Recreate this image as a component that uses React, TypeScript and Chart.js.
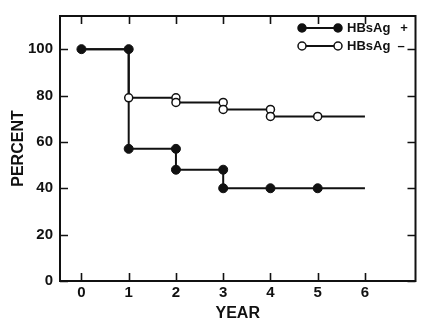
import React, { useEffect, useRef } from "react";
import { Chart, registerables } from "chart.js";

Chart.register(...registerables);

// ---- data ----
const yearTicks = [0, 1, 2, 3, 4, 5, 6];
const percentTicks = [0, 20, 40, 60, 80, 100];

const posYears = [0, 1, 1, 2, 2, 3, 3, 4, 5, 6];
const posPercent = [100, 100, 57, 57, 48, 48, 40, 40, 40, 40];
const posMarker = [true, true, true, true, true, true, true, true, true, false];

const negYears = [0, 1, 1, 2, 2, 3, 3, 4, 4, 5, 6];
const negPercent = [100, 100, 79, 79, 77, 77, 74, 74, 71, 71, 71];
const negMarker = [false, false, true, true, true, true, true, true, true, true, false];

const seriesLabels = ["HBsAg +", "HBsAg \u2013"];

const INK = "#111";
const FONT = "'Liberation Sans', Arial, Helvetica, sans-serif";

const framePlugin = {
  id: "frame",
  afterDraw(chart: any) {
    const { ctx, chartArea, scales } = chart;
    const { left, right, top, bottom } = chartArea;
    const x = scales.x;
    const y = scales.y;
    ctx.save();
    ctx.strokeStyle = INK;
    ctx.lineWidth = 1.6;
    const tl = 8;
    ctx.beginPath();
    x.ticks.forEach((t: any) => {
      const px = Math.round(x.getPixelForValue(t.value)) + 0.5;
      ctx.moveTo(px, bottom);
      ctx.lineTo(px, bottom - tl);
      ctx.moveTo(px, top);
      ctx.lineTo(px, top + tl);
    });
    y.ticks.forEach((t: any) => {
      const py = Math.round(y.getPixelForValue(t.value)) + 0.5;
      ctx.moveTo(left, py);
      ctx.lineTo(left + tl, py);
      ctx.moveTo(right, py);
      ctx.lineTo(right - tl, py);
    });
    ctx.stroke();
    ctx.lineWidth = 2;
    ctx.strokeRect(left, top, right - left, bottom - top);

    // legend
    const rows = [
      { label: seriesLabels[0], filled: true, y: 28, signX: 404 },
      { label: seriesLabels[1], filled: false, y: 46, signX: 401 },
    ];
    rows.forEach((r) => {
      ctx.lineWidth = 2;
      ctx.strokeStyle = INK;
      ctx.beginPath();
      ctx.moveTo(302, r.y);
      ctx.lineTo(338, r.y);
      ctx.stroke();
      [302, 338].forEach((cx) => {
        ctx.beginPath();
        ctx.arc(cx, r.y, 4, 0, Math.PI * 2);
        ctx.fillStyle = r.filled ? INK : "#fff";
        ctx.fill();
        ctx.lineWidth = 1.5;
        ctx.stroke();
      });
      const idx = r.label.lastIndexOf(" ");
      const name = r.label.slice(0, idx);
      const sign = r.label.slice(idx + 1);
      ctx.fillStyle = INK;
      ctx.font = `bold 13px ${FONT}`;
      ctx.textBaseline = "middle";
      ctx.textAlign = "left";
      ctx.fillText(name, 347, r.y);
      ctx.textAlign = "center";
      ctx.fillText(sign, r.signX, r.y);
    });
    ctx.restore();
  },
};

export default function App() {
  const ref = useRef<HTMLCanvasElement | null>(null);
  useEffect(() => {
    document.body.style.margin = "0";
    const canvas = ref.current;
    if (!canvas) return;
    const mk = (xs: number[], ys: number[]) => xs.map((v, i) => ({ x: v, y: ys[i] }));
    const chart = new Chart(canvas, {
      type: "line",
      data: {
        datasets: [
          {
            label: seriesLabels[1],
            data: mk(negYears, negPercent),
            borderColor: INK,
            borderWidth: 2,
            pointRadius: negMarker.map((m) => (m ? 4 : 0)),
            pointBackgroundColor: "#fff",
            pointBorderColor: INK,
            pointBorderWidth: 1.5,
            tension: 0,
            order: 0,
          },
          {
            label: seriesLabels[0],
            data: mk(posYears, posPercent),
            borderColor: INK,
            borderWidth: 2,
            pointRadius: posMarker.map((m) => (m ? 4.5 : 0)),
            pointBackgroundColor: INK,
            pointBorderColor: INK,
            pointBorderWidth: 1,
            tension: 0,
            order: 1,
          },
        ],
      },
      options: {
        responsive: false,
        animation: false,
        layout: { padding: { top: 9, right: 1.5, left: 0, bottom: 0 } },
        plugins: { legend: { display: false }, tooltip: { enabled: false } },
        scales: {
          x: {
            type: "linear",
            min: -0.454,
            max: 7.07,
            grid: { display: false, drawTicks: false },
            border: { display: false },
            afterBuildTicks: (s: any) => {
              s.ticks = yearTicks.map((v) => ({ value: v }));
            },
            afterFit: (s: any) => {
              s.height = 42;
            },
            ticks: {
              color: INK,
              padding: 3,
              font: { family: FONT, size: 15, weight: "bold" },
              callback: (v: any) => String(v),
            },
            title: {
              display: true,
              text: "YEAR",
              color: INK,
              padding: { top: 0, bottom: 0 },
              font: { family: FONT, size: 16, weight: "bold" },
            },
          },
          y: {
            type: "linear",
            min: 0,
            max: 114.3,
            grid: { display: false, drawTicks: false },
            border: { display: false },
            afterBuildTicks: (s: any) => {
              s.ticks = percentTicks.map((v) => ({ value: v }));
            },
            afterFit: (s: any) => {
              s.width = 60;
            },
            ticks: {
              color: INK,
              padding: 7,
              font: { family: FONT, size: 15, weight: "bold" },
              callback: (v: any) => String(v),
            },
            title: {
              display: true,
              text: "PERCENT",
              color: INK,
              padding: { top: 9, bottom: 0 },
              font: { family: FONT, size: 16, weight: "bold" },
            },
          },
        },
      },
      plugins: [framePlugin],
    });
    return () => chart.destroy();
  }, []);
  return <canvas ref={ref} width={421} height={323} style={{ display: "block" }} />;
}
